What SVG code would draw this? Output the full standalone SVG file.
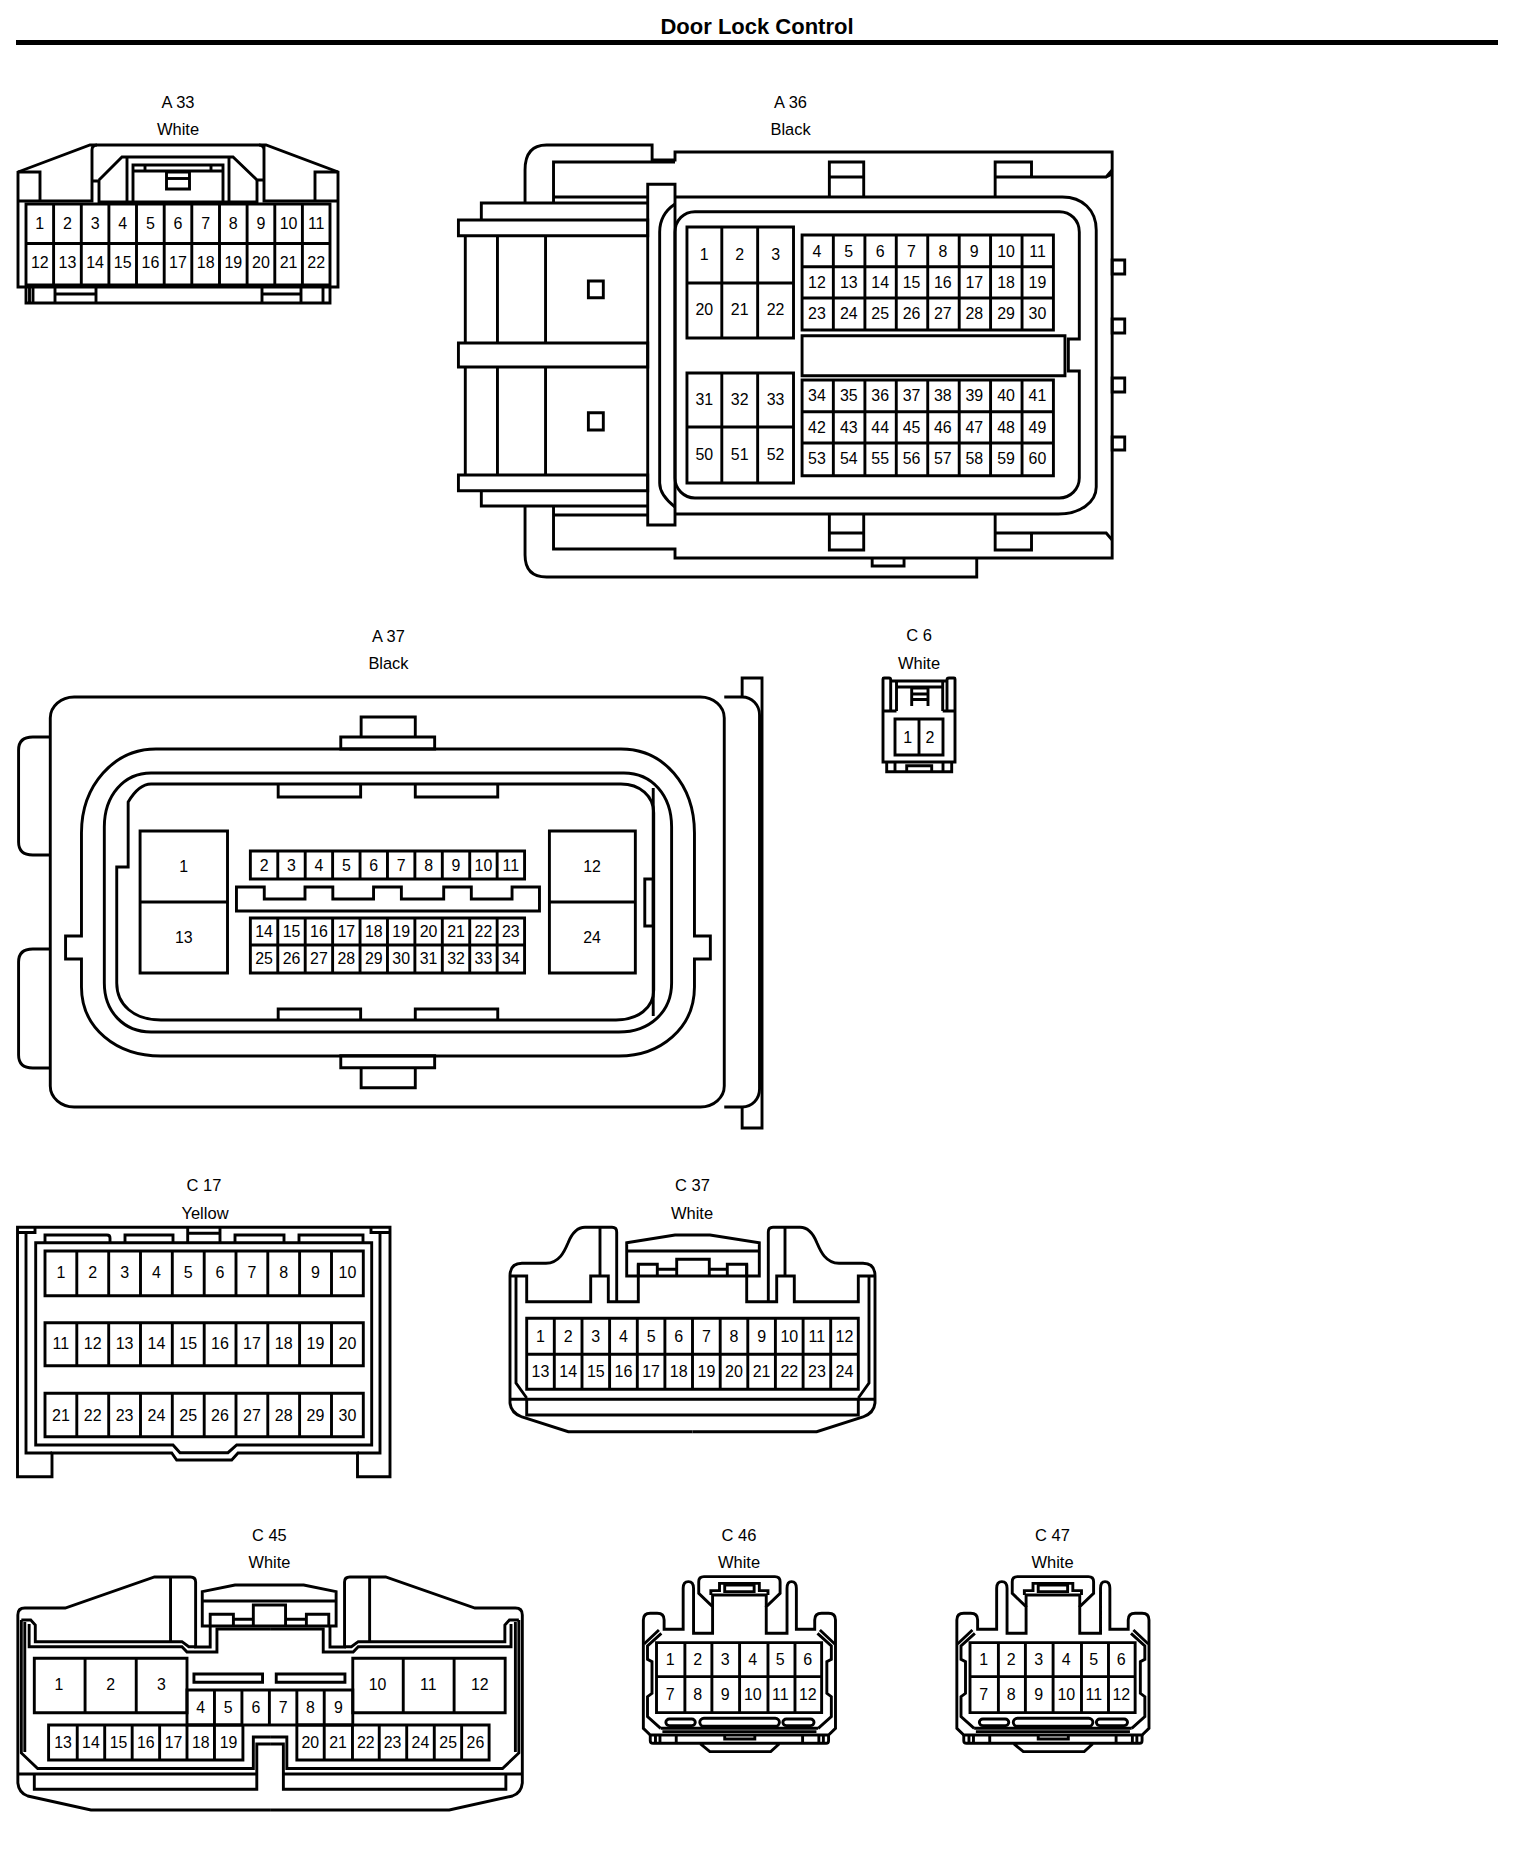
<svg xmlns="http://www.w3.org/2000/svg" xmlns:xlink="http://www.w3.org/1999/xlink" width="1520" height="1862" viewBox="0 0 1520 1862">
<style>
.s,.s *{fill:none;stroke:#000;stroke-width:2.9;stroke-linejoin:miter;vector-effect:non-scaling-stroke}
text{font-family:"Liberation Sans",Arial,sans-serif;fill:#000;stroke:none}
.lb{font-size:16.5px;text-anchor:middle}
.n{font-size:16px;text-anchor:middle}
.t{font-size:22px;font-weight:bold;text-anchor:middle}
</style>
<defs>
<g id="c37half" class="s">
<path d="M510 1276C510 1268 514 1263.3 522 1263.3L546 1263.3C560 1263 565 1250 568 1243C572 1233 577 1227.3 585 1227.3L612 1227.3Q616.7 1227.3 616.7 1232L616.7 1301.7"/>
<path d="M510 1276L510 1403Q511 1413 522 1417L568.3 1431.7L692.5 1431.7"/>
<path d="M516 1276L516 1383L526.7 1398"/>
<path d="M510 1276H526.7V1301.7H590.7V1276H608.3V1301.7H638.3V1264.3"/>
<path d="M600 1227.3V1276"/>
</g>
<g id="c45half" class="s">
<path d="M18 1615Q18 1608 25 1608L65.8 1608L155.8 1577L192 1577Q197.3 1577 197.3 1582L197.3 1647H212V1626"/>
<path d="M18 1615V1783Q19 1793 28 1796L91.7 1810H272.4"/>
<path d="M21.5 1620V1753L38 1768.5H255.5V1737H272.4"/>
<path d="M25 1622V1752"/>
<path d="M18 1774H259"/>
<path d="M34.6 1774V1789.3H259V1744H272.4"/>
<path d="M21.5 1620H31L35.6 1625V1641.7H183.5L190.4 1646.7H197.3"/>
<path d="M29.4 1624V1646.7H183.5L188.6 1652H218.8V1629H272.4"/>
<path d="M172 1577V1641.7"/>
</g>
<g id="c46shell" class="s">
<path d="M40 625V300Q40 280 60 280H80Q100 280 100 300V328H155V205Q155 185 170 185Q185 185 185 205V340H240V260L200 220V185Q200 170 215 170H420Q435 170 435 185V220L395 260V340H455V205Q455 185 468 185Q482 185 482 205V328H535V300Q535 280 555 280H575Q595 280 595 300V625L575 645H60Z"/>
<path d="M240 260V225H395V260M235 225V212H260V190H375V212H400V225"/>
<rect x="275" y="195" width="85" height="20"/>
<path d="M85 330L42 372M92 340L52 378V418L65 425V520L52 530V590L90 625"/>
<path d="M550 330L593 372M543 340L583 378V418L570 425V520L583 530V590L545 625"/>
<path d="M90 625H545M95 635H540"/>
<rect x="105" y="597" width="85" height="20" rx="10"/>
<rect x="203" y="595" width="230" height="24" rx="12"/>
<rect x="443" y="597" width="90" height="20" rx="10"/>
<path d="M60 645V662Q60 670 68 670H568Q575 670 575 662V645M75 645V670M88 645V670M135 645V670M500 645V670M547 645V670M560 645V670M275 645V657H362V645M205 672L232 695H408L432 672"/>
<rect x="78" y="368" width="477" height="210"/>
<path d="M78 470H555M160 368V578M238 368V578M318 368V578M400 368V578M478 368V578"/>
</g>
</defs>
<rect width="1520" height="1862" fill="#fff"/>
<g id="title">
<text class="t" x="757" y="34">Door Lock Control</text>
<rect x="16" y="40" width="1482" height="5" fill="#000"/>
</g>

<g id="A33">
<text class="lb" x="178" y="108">A 33</text><text class="lb" x="178" y="135">White</text>
<g class="s">
<path d="M18 172L90 145H266L338 172V287H18Z"/>
<path d="M18 172H40V201M18 201H92V150Q92 145 97 145M264 150Q264 145 259 145M264 145V201H338M315 201V172H338"/>
<path d="M92 181H99V202H133M99 180L122 157H233L257 180H264M257 180V202H223"/>
<path d="M127 157V202M229 157V202"/>
<rect x="133" y="165" width="90" height="37"/>
<path d="M133 171H223M145 165V171M211 165V171"/>
<rect x="166.500" y="172" width="23" height="17"/><path d="M166.500 178.500H189.500"/>
<rect x="26" y="204" width="304" height="81"/>
<path d="M26 243.500H330M53.600 204V285M81.300 204V285M108.900 204V285M136.500 204V285M164.200 204V285M191.800 204V285M219.500 204V285M247.100 204V285M274.800 204V285M302.400 204V285"/>
<path d="M26 287V303H330V287M29.500 287V303M33 287V303M55 287V303M96 287V303M55 294H96M262 287V303M301 287V303M262 294H301M323 287V303"/>
</g>
<g class="n">
<text x="39.800" y="228.500">1</text><text x="67.500" y="228.500">2</text><text x="95.100" y="228.500">3</text><text x="122.700" y="228.500">4</text><text x="150.400" y="228.500">5</text><text x="178" y="228.500">6</text><text x="205.700" y="228.500">7</text><text x="233.300" y="228.500">8</text><text x="260.900" y="228.500">9</text><text x="288.600" y="228.500">10</text><text x="316.200" y="228.500">11</text>
<text x="39.800" y="268">12</text><text x="67.500" y="268">13</text><text x="95.100" y="268">14</text><text x="122.700" y="268">15</text><text x="150.400" y="268">16</text><text x="178" y="268">17</text><text x="205.700" y="268">18</text><text x="233.300" y="268">19</text><text x="260.900" y="268">20</text><text x="288.600" y="268">21</text><text x="316.200" y="268">22</text>
</g>
</g>

<g id="A36" transform="translate(440,0) scale(.9958,1) translate(-440,0)">
<text class="lb" x="792" y="108">A 36</text><text class="lb" x="792" y="135">Black</text>
<g class="s">
<path d="M525.400 203V170Q525.400 145 547 145H653V160H676V152H1115V558H676V549H554V506"/>
<path d="M554 203V162H676"/>
<path d="M525.400 506V555Q525.400 577 547 577H979V558"/>
<path d="M874 558V566H906V558"/>
<path d="M831 197V162H865.500V197M831 177H865.500"/>
<path d="M997.500 197V162H1034V177M997.500 177H1109L1115 170M1109 177L1115 174"/>
<path d="M831 515V550H865.500V515M831 533H865.500"/>
<path d="M997.500 515V550H1034V533M997.500 533H1109L1115 540"/>
<rect x="648.600" y="184.300" width="27.400" height="340.700"/>
<path d="M676 197H1065C1085 197 1099 210 1099 230V487C1099 503 1082 514 1061 514H676"/>
<path d="M676 204C667 210 660.600 220 660.600 232V483C660.600 492 667 500 676 507"/>
<path d="M696 211.700H1062C1073 211.700 1082 220 1082 232V339H1071V371H1082V478C1082 489 1073 498 1062 498H696C685 498 676 489 676 478V232C676 220 685 211.700 696 211.700Z"/>
<rect x="688" y="227" width="107" height="111"/><path d="M688 283H795M723 227V338M759 227V338"/>
<rect x="688" y="373" width="107" height="110"/><path d="M688 427H795M723 373V483M759 373V483"/>
<rect x="803.600" y="235" width="252.400" height="95"/><path d="M803.600 266.700H1056M803.600 298H1056M835 235V330M866.700 235V330M898.200 235V330M929.800 235V330M961.400 235V330M992.900 235V330M1024.500 235V330"/>
<rect x="803.600" y="380" width="252.400" height="95.700"/><path d="M803.600 411.700H1056M803.600 443H1056M835 380V475.700M866.700 380V475.700M898.200 380V475.700M929.800 380V475.700M961.400 380V475.700M992.900 380V475.700M1024.500 380V475.700"/>
<rect x="803.600" y="335.700" width="264" height="40"/>
<rect x="1115" y="260" width="12.600" height="14"/><rect x="1115" y="319" width="12.600" height="14"/><rect x="1115" y="378" width="12.600" height="14"/><rect x="1115" y="437" width="12.600" height="13"/>
<path d="M648.600 203H481.500V220M648.600 197H554"/>
<rect x="458.500" y="220" width="190.100" height="15.700"/>
<rect x="458.500" y="475" width="190.100" height="15.700"/>
<path d="M481.500 490.700V506H648.600M554 515H648.600"/>
<rect x="458.500" y="343" width="190.100" height="24"/>
<path d="M465.400 235.700V343M465.400 367V475M497.700 235.700V343M497.700 367V475M546 235.700V343M546 367V475"/>
<rect x="589" y="281" width="15" height="16.700"/><rect x="589" y="412.700" width="15" height="17.300"/>
</g>
<g class="n">
<text x="705.400" y="260">1</text><text x="741" y="260">2</text><text x="777" y="260">3</text>
<text x="705.400" y="315">20</text><text x="741" y="315">21</text><text x="777" y="315">22</text>
<text x="705.400" y="405">31</text><text x="741" y="405">32</text><text x="777" y="405">33</text>
<text x="705.400" y="460">50</text><text x="741" y="460">51</text><text x="777" y="460">52</text>
<text x="818.500" y="257">4</text><text x="850.500" y="257">5</text><text x="882" y="257">6</text><text x="913.500" y="257">7</text><text x="945" y="257">8</text><text x="976.500" y="257">9</text><text x="1008.500" y="257">10</text><text x="1040" y="257">11</text>
<text x="818.500" y="288">12</text><text x="850.500" y="288">13</text><text x="882" y="288">14</text><text x="913.500" y="288">15</text><text x="945" y="288">16</text><text x="976.500" y="288">17</text><text x="1008.500" y="288">18</text><text x="1040" y="288">19</text>
<text x="818.500" y="319">23</text><text x="850.500" y="319">24</text><text x="882" y="319">25</text><text x="913.500" y="319">26</text><text x="945" y="319">27</text><text x="976.500" y="319">28</text><text x="1008.500" y="319">29</text><text x="1040" y="319">30</text>
<text x="818.500" y="401">34</text><text x="850.500" y="401">35</text><text x="882" y="401">36</text><text x="913.500" y="401">37</text><text x="945" y="401">38</text><text x="976.500" y="401">39</text><text x="1008.500" y="401">40</text><text x="1040" y="401">41</text>
<text x="818.500" y="432.700">42</text><text x="850.500" y="432.700">43</text><text x="882" y="432.700">44</text><text x="913.500" y="432.700">45</text><text x="945" y="432.700">46</text><text x="976.500" y="432.700">47</text><text x="1008.500" y="432.700">48</text><text x="1040" y="432.700">49</text>
<text x="818.500" y="464">53</text><text x="850.500" y="464">54</text><text x="882" y="464">55</text><text x="913.500" y="464">56</text><text x="945" y="464">57</text><text x="976.500" y="464">58</text><text x="1008.500" y="464">59</text><text x="1040" y="464">60</text>
</g>
</g>

<g id="A37" transform="scale(.9935,1)">
<text class="lb" x="391" y="642">A 37</text><text class="lb" x="391" y="669">Black</text>
<g class="s">
<rect x="50.600" y="697" width="678.400" height="410" rx="24" ry="21"/>
<path d="M50.600 737H33Q18.700 737 18.700 750V842Q18.700 855 33 855H50.600"/>
<path d="M50.600 949H33Q18.700 949 18.700 962V1055Q18.700 1068 33 1068H50.600"/>
<path d="M729 697H747C757 697 764.500 705 764.500 715V1089C764.500 1099 757 1107 747 1107H729"/>
<path d="M747 697V678H767V1128H747V1107"/>
<path d="M363.500 737V717H418V737"/><rect x="343" y="737" width="94.500" height="12"/>
<path d="M363.500 1067.700V1087.700H418V1067.700"/><rect x="343" y="1055.700" width="94.500" height="12"/>
<path d="M157 749H625C668 749 699 785 699 833V936H715V959H699V987C699 1028 665 1056 623 1056H162C117 1056 82 1028 82 987V959H66V936H82V833C82 785 115 749 157 749Z"/>
<path d="M152 773H628C656 773 676 795 676 827V983C676 1012 654 1032 623 1032H152C125 1032 105 1012 105 983V827C105 795 125 773 152 773Z"/>
<path d="M129 867V802C135 792 143 784 152 784H625C644 784 658 796 658 813V990C658 1008 642 1020 620 1020H162C135 1020 117.500 1005 117.500 983V867Z"/>
<path d="M657.500 788V1016"/><rect x="649" y="879" width="8.500" height="47"/>
<path d="M280 784V797H363V784M418 784V797H501V784M280 1020V1009H363V1020M418 1020V1009H501V1020"/>
<rect x="141" y="831" width="88" height="142"/><path d="M141 902H229"/>
<rect x="553" y="831" width="86.500" height="142"/><path d="M553 902H639.500"/>
<rect x="252" y="851" width="276" height="28"/><path d="M279.600 851V879M307.200 851V879M334.800 851V879M362.400 851V879M390 851V879M417.600 851V879M445.200 851V879M472.800 851V879M500.400 851V879"/>
<path d="M238 887H266V899H307V887H335V899H376V887H404V899H446.600V887H474.400V899H515.400V887H543V911H238Z"/>
<rect x="252" y="918" width="276" height="55"/><path d="M252 945H528M279.600 918V973M307.200 918V973M334.800 918V973M362.400 918V973M390 918V973M417.600 918V973M445.200 918V973M472.800 918V973M500.400 918V973"/>
</g>
<g class="n">
<text x="185" y="872">1</text><text x="185" y="943">13</text><text x="596" y="872">12</text><text x="596" y="943">24</text>
<text x="265.800" y="871">2</text><text x="293.400" y="871">3</text><text x="321" y="871">4</text><text x="348.600" y="871">5</text><text x="376.200" y="871">6</text><text x="403.800" y="871">7</text><text x="431.400" y="871">8</text><text x="459" y="871">9</text><text x="486.600" y="871">10</text><text x="514.200" y="871">11</text>
<text x="265.800" y="937">14</text><text x="293.400" y="937">15</text><text x="321" y="937">16</text><text x="348.600" y="937">17</text><text x="376.200" y="937">18</text><text x="403.800" y="937">19</text><text x="431.400" y="937">20</text><text x="459" y="937">21</text><text x="486.600" y="937">22</text><text x="514.200" y="937">23</text>
<text x="265.800" y="964">25</text><text x="293.400" y="964">26</text><text x="321" y="964">27</text><text x="348.600" y="964">28</text><text x="376.200" y="964">29</text><text x="403.800" y="964">30</text><text x="431.400" y="964">31</text><text x="459" y="964">32</text><text x="486.600" y="964">33</text><text x="514.200" y="964">34</text>
</g>
</g>

<g id="C6">
<text class="lb" x="919" y="641">C 6</text><text class="lb" x="919" y="669">White</text>
<g class="s">
<path d="M883 712V679Q883 678 884 678H889Q890.700 678 890.700 680V712M883 712V762H955V712"/>
<path d="M947 712V680Q947 678 949 678H954Q955 678 955 679V712"/>
<path d="M890.700 681H947M896.500 711V687H942.700V711M896.500 711H883M942.700 711H955M896.500 687V681M942.700 687V681"/>
<path d="M911.700 706V688H928V706M911.700 694H928M911.700 699.500H928"/>
<rect x="895" y="719" width="48" height="36"/><path d="M919 719V755"/>
<path d="M886.700 762V771.700H951.700V762M895 762V771.700M943 762V771.700M906.700 771.700V765.700H931.700V771.700"/>
</g>
<g class="n"><text x="907.700" y="742.700">1</text><text x="930" y="742.700">2</text></g>
</g>

<g id="C17">
<text class="lb" x="204" y="1190.700">C 17</text><text class="lb" x="205" y="1219">Yellow</text>
<g class="s">
<path d="M17.500 1227.300H390V1476.700H357.500V1453H238L231.700 1460H176.700L171.700 1453H52V1476.700H17.500Z"/>
<path d="M17.500 1232.500H35V1227.300M26 1232.500V1453H52M390 1232.500H371V1227.300M380 1232.500V1453H357.500"/>
<path d="M35.700 1242.700H371.700V1445H236.700L228 1452.700H180L173 1445H35.700Z"/>
<path d="M45 1242.700V1235H107Q110 1235 110 1238V1242.700M125 1242.700V1235H173V1242.700M187.700 1242.700V1227.300M220 1242.700V1227.300M187.700 1233.300H220M235 1242.700V1235H284V1242.700M299 1242.700V1235H363V1242.700"/>
<rect x="45" y="1251" width="318.300" height="44.700"/><path d="M76.800 1251V1295.700M108.700 1251V1295.700M140.500 1251V1295.700M172.300 1251V1295.700M204.200 1251V1295.700M236 1251V1295.700M267.800 1251V1295.700M299.600 1251V1295.700M331.500 1251V1295.700"/>
<rect x="45" y="1322.700" width="318.300" height="43"/><path d="M76.800 1322.700V1365.700M108.700 1322.700V1365.700M140.500 1322.700V1365.700M172.300 1322.700V1365.700M204.200 1322.700V1365.700M236 1322.700V1365.700M267.800 1322.700V1365.700M299.600 1322.700V1365.700M331.500 1322.700V1365.700"/>
<rect x="45" y="1393.300" width="318.300" height="43.400"/><path d="M76.800 1393.300V1436.700M108.700 1393.300V1436.700M140.500 1393.300V1436.700M172.300 1393.300V1436.700M204.200 1393.300V1436.700M236 1393.300V1436.700M267.800 1393.300V1436.700M299.600 1393.300V1436.700M331.500 1393.300V1436.700"/>
</g>
<g class="n">
<text x="60.900" y="1278.300">1</text><text x="92.700" y="1278.300">2</text><text x="124.600" y="1278.300">3</text><text x="156.400" y="1278.300">4</text><text x="188.200" y="1278.300">5</text><text x="220" y="1278.300">6</text><text x="251.900" y="1278.300">7</text><text x="283.700" y="1278.300">8</text><text x="315.500" y="1278.300">9</text><text x="347.400" y="1278.300">10</text>
<text x="60.900" y="1349">11</text><text x="92.700" y="1349">12</text><text x="124.600" y="1349">13</text><text x="156.400" y="1349">14</text><text x="188.200" y="1349">15</text><text x="220" y="1349">16</text><text x="251.900" y="1349">17</text><text x="283.700" y="1349">18</text><text x="315.500" y="1349">19</text><text x="347.400" y="1349">20</text>
<text x="60.900" y="1420.700">21</text><text x="92.700" y="1420.700">22</text><text x="124.600" y="1420.700">23</text><text x="156.400" y="1420.700">24</text><text x="188.200" y="1420.700">25</text><text x="220" y="1420.700">26</text><text x="251.900" y="1420.700">27</text><text x="283.700" y="1420.700">28</text><text x="315.500" y="1420.700">29</text><text x="347.400" y="1420.700">30</text>
</g>
</g>

<g id="C37">
<text class="lb" x="692.500" y="1190.700">C 37</text><text class="lb" x="692" y="1219">White</text>
<use xlink:href="#c37half" href="#c37half"/>
<use xlink:href="#c37half" href="#c37half" transform="translate(1385,0) scale(-1,1)"/>
<g class="s">
<path d="M626.700 1242.700L675 1235H710L759.300 1242.700V1276H626.700Z"/>
<path d="M626.700 1251H759.300"/>
<path d="M638.300 1276V1264.300H657.300V1276M676.700 1276V1259.300H709.300V1276M727.300 1276V1264.300H746.700V1276M657.300 1269.300H676.700M709.300 1269.300H727.300"/>
<rect x="526.700" y="1318.300" width="331.600" height="71"/>
<path d="M526.700 1354.300H858.300M554.300 1318.300V1389.300M582 1318.300V1389.300M609.600 1318.300V1389.300M637.300 1318.300V1389.300M664.900 1318.300V1389.300M692.500 1318.300V1389.300M720.200 1318.300V1389.300M747.800 1318.300V1389.300M775.400 1318.300V1389.300M803.100 1318.300V1389.300M830.700 1318.300V1389.300"/>
<path d="M510 1399.300H875M526.700 1399.300V1415H858.300V1399.300"/>
</g>
<g class="n">
<text x="540.500" y="1341.700">1</text><text x="568.200" y="1341.700">2</text><text x="595.800" y="1341.700">3</text><text x="623.400" y="1341.700">4</text><text x="651.100" y="1341.700">5</text><text x="678.700" y="1341.700">6</text><text x="706.400" y="1341.700">7</text><text x="734" y="1341.700">8</text><text x="761.600" y="1341.700">9</text><text x="789.300" y="1341.700">10</text><text x="816.900" y="1341.700">11</text><text x="844.500" y="1341.700">12</text>
<text x="540.500" y="1377.300">13</text><text x="568.200" y="1377.300">14</text><text x="595.800" y="1377.300">15</text><text x="623.400" y="1377.300">16</text><text x="651.100" y="1377.300">17</text><text x="678.700" y="1377.300">18</text><text x="706.400" y="1377.300">19</text><text x="734" y="1377.300">20</text><text x="761.600" y="1377.300">21</text><text x="789.300" y="1377.300">22</text><text x="816.900" y="1377.300">23</text><text x="844.500" y="1377.300">24</text>
</g>
</g>

<g id="C45" transform="scale(.9915,1)">
<text class="lb" x="271.700" y="1540.700">C 45</text><text class="lb" x="271.700" y="1567.700">White</text>
<use xlink:href="#c45half" href="#c45half"/>
<use xlink:href="#c45half" href="#c45half" transform="translate(544.800,0) scale(-1,1)"/>
<g class="s">
<path d="M204 1591.700L237 1585H306.300L339 1591.700V1626H204Z"/>
<path d="M204 1601H339"/>
<path d="M212 1626V1614.300H235.400V1626M255.500 1626V1605H288V1626M309 1626V1614.300H331.600V1626M235.400 1619.300H255.500M288 1619.300H309"/>
<rect x="34.600" y="1658.300" width="154" height="54.400"/><path d="M85.800 1658.300V1712.700M137.400 1658.300V1712.700"/>
<rect x="355.800" y="1658.300" width="153.700" height="54.400"/><path d="M406.700 1658.300V1712.700M458 1658.300V1712.700"/>
<rect x="188.600" y="1690" width="167.200" height="35"/><path d="M216.300 1690V1725M244 1690V1725M271.700 1690V1725M299.400 1690V1725M327 1690V1725"/>
<path d="M245 1725V1760H49V1725H245M77.900 1725V1760M105.600 1725V1760M133.300 1725V1760M161 1725V1760M188.600 1725V1760M216.300 1725V1760"/>
<path d="M299.400 1725V1760H493.300V1725H299.400M327 1725V1760M355.500 1725V1760M382.500 1725V1760M410.200 1725V1760M438 1725V1760M465.600 1725V1760"/>
<rect x="195.600" y="1674" width="69.200" height="8.300"/><rect x="278.600" y="1674" width="69.300" height="8.300"/>
</g>
<g class="n">
<text x="59.500" y="1690">1</text><text x="111.500" y="1690">2</text><text x="162.700" y="1690">3</text><text x="380.800" y="1690">10</text><text x="432" y="1690">11</text><text x="484" y="1690">12</text>
<text x="202.500" y="1712.700">4</text><text x="230" y="1712.700">5</text><text x="258" y="1712.700">6</text><text x="285.500" y="1712.700">7</text><text x="313" y="1712.700">8</text><text x="341.400" y="1712.700">9</text>
<text x="63.500" y="1747.700">13</text><text x="91.700" y="1747.700">14</text><text x="119.500" y="1747.700">15</text><text x="147" y="1747.700">16</text><text x="175" y="1747.700">17</text><text x="202.500" y="1747.700">18</text><text x="230.600" y="1747.700">19</text>
<text x="313" y="1747.700">20</text><text x="341" y="1747.700">21</text><text x="369" y="1747.700">22</text><text x="396" y="1747.700">23</text><text x="424" y="1747.700">24</text><text x="452" y="1747.700">25</text><text x="479.500" y="1747.700">26</text>
</g>
</g>

<g id="C46">
<text class="lb" x="739" y="1540.700">C 46</text><text class="lb" x="739" y="1567.700">White</text>
<use xlink:href="#c46shell" href="#c46shell" transform="translate(629.500,1520) scale(.3462,.3333)"/>
<g class="n">
<text x="670.300" y="1665">1</text><text x="697.800" y="1665">2</text><text x="725.300" y="1665">3</text><text x="752.800" y="1665">4</text><text x="780.300" y="1665">5</text><text x="807.800" y="1665">6</text>
<text x="670.300" y="1700">7</text><text x="697.800" y="1700">8</text><text x="725.300" y="1700">9</text><text x="752.800" y="1700">10</text><text x="780.300" y="1700">11</text><text x="807.800" y="1700">12</text>
</g>
</g>

<g id="C47">
<text class="lb" x="1052.500" y="1540.700">C 47</text><text class="lb" x="1052.500" y="1567.700">White</text>
<use xlink:href="#c46shell" href="#c46shell" transform="translate(943,1520) scale(.3462,.3333)"/>
<g class="n">
<text x="983.800" y="1665">1</text><text x="1011.300" y="1665">2</text><text x="1038.800" y="1665">3</text><text x="1066.300" y="1665">4</text><text x="1093.800" y="1665">5</text><text x="1121.300" y="1665">6</text>
<text x="983.800" y="1700">7</text><text x="1011.300" y="1700">8</text><text x="1038.800" y="1700">9</text><text x="1066.300" y="1700">10</text><text x="1093.800" y="1700">11</text><text x="1121.300" y="1700">12</text>
</g>
</g>
</svg>
